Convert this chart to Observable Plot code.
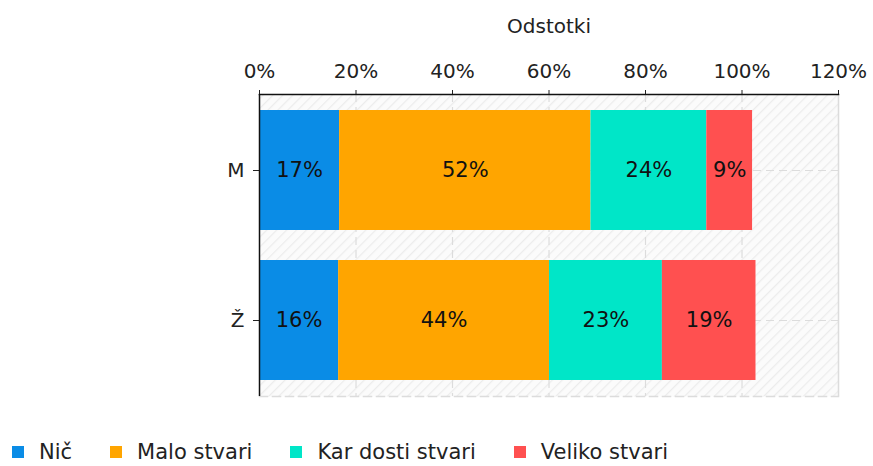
<!DOCTYPE html>
<html>
<head>
<meta charset="utf-8">
<script src="https://cdn.jsdelivr.net/npm/d3@7"></script>
<script src="https://cdn.jsdelivr.net/npm/@observablehq/plot@0.6"></script>
<style>
  html, body { margin: 0; padding: 0; background: #fff; }
  body { width: 873px; height: 466px; overflow: hidden; font-family: "DejaVu Sans", Verdana, sans-serif; }
  #legend { display: flex; align-items: center; position: absolute; left: 12px; top: 442px; font-size: 21px; line-height: 20px; color: #222; white-space: nowrap; }
  #legend .item { display: flex; align-items: center; margin-right: 38px; }
  #legend .sw { width: 12px; height: 12px; margin-right: 15px; }
</style>
</head>
<body>
<div id="chart"></div>
<div id="legend"></div>
<script>
const categories = ["M", "Ž"];
const responses = ["Nič", "Malo stvari", "Kar dosti stvari", "Veliko stvari"];
const colors = ["#0a8ce6", "#ffa500", "#00e6c8", "#ff5050"];
const valuesM = [16.6, 52.1, 24.0, 9.49];
const valuesZ = [16.4, 43.7, 23.4, 19.4];
const xTicks = [0, 20, 40, 60, 80, 100, 120];
const axisTitle = "Odstotki";

const seriesByCat = {"M": valuesM, "Ž": valuesZ};
const data = [];
for (const c of categories) {
  responses.forEach((r, i) => data.push({cat: c, resp: r, value: seriesByCat[c][i]}));
}

const font = "DejaVu Sans, Verdana, sans-serif";
const grid = "#dcdcdc";

const plot = Plot.plot({
  width: 873,
  height: 421,
  marginTop: 94,
  marginLeft: 259,
  marginRight: 35,
  marginBottom: 25,
  style: {fontFamily: font, fontSize: "20px", color: "#222", background: "#fff"},
  x: {domain: [0, 120], ticks: xTicks, tickFormat: d => d + "%", axis: null},
  y: {domain: categories, paddingInner: 0.2, paddingOuter: 0.105, axis: null},
  color: {domain: responses, range: colors},
  marks: [
    Plot.frame({fill: "url(#hatch)", stroke: null}),
    Plot.ruleX(xTicks.slice(1, -1), {stroke: grid, strokeDasharray: "8,5", strokeWidth: 1.2}),
    Plot.ruleY(categories, {y: d => d, stroke: grid, strokeDasharray: "8,5", strokeWidth: 1.2}),
    Plot.frame({anchor: "bottom", stroke: grid, strokeDasharray: "8,5", strokeWidth: 1.5}),
    Plot.ruleX([120], {stroke: grid, strokeWidth: 1.5}),
    Plot.barX(data, Plot.stackX({x: "value", y: "cat", fill: "resp", z: "resp", order: responses})),
    Plot.text(data, Plot.stackX({x: "value", y: "cat", z: "resp", order: responses, text: d => Math.round(d.value) + "%", fill: "#111", fontSize: 21})),
    Plot.axisX({anchor: "top", ticks: xTicks, tickFormat: d => d + "%", tickSize: 5, tickPadding: 12, label: axisTitle, labelAnchor: "center", labelArrow: "none", labelOffset: 76, fontSize: 20, color: "#222"}),
    Plot.axisY({anchor: "left", tickSize: 6, tickPadding: 9, label: null, fontSize: 20, color: "#222"}),
    Plot.frame({anchor: "top", stroke: "#111", strokeWidth: 1.5}),
    Plot.ruleX([0], {stroke: "#111", strokeWidth: 1.5})
  ]
});

// hatch pattern for the plot background
const ns = "http://www.w3.org/2000/svg";
const defs = document.createElementNS(ns, "defs");
const pat = document.createElementNS(ns, "pattern");
pat.setAttribute("id", "hatch");
pat.setAttribute("patternUnits", "userSpaceOnUse");
pat.setAttribute("width", "7");
pat.setAttribute("height", "7");
pat.setAttribute("patternTransform", "rotate(45)");
const bg = document.createElementNS(ns, "rect");
bg.setAttribute("width", "7"); bg.setAttribute("height", "7"); bg.setAttribute("fill", "#fbfbfb");
const ln = document.createElementNS(ns, "line");
ln.setAttribute("x1", "0"); ln.setAttribute("y1", "0"); ln.setAttribute("x2", "0"); ln.setAttribute("y2", "7");
ln.setAttribute("stroke", "#ececec"); ln.setAttribute("stroke-width", "2.5");
pat.appendChild(bg); pat.appendChild(ln); defs.appendChild(pat);
plot.insertBefore(defs, plot.firstChild);

document.getElementById("chart").appendChild(plot);

const legend = document.getElementById("legend");
responses.forEach((r, i) => {
  const item = document.createElement("div");
  item.className = "item";
  const sw = document.createElement("span");
  sw.className = "sw";
  sw.style.background = colors[i];
  const t = document.createElement("span");
  t.textContent = r;
  item.appendChild(sw); item.appendChild(t);
  legend.appendChild(item);
});
</script>
</body>
</html>
